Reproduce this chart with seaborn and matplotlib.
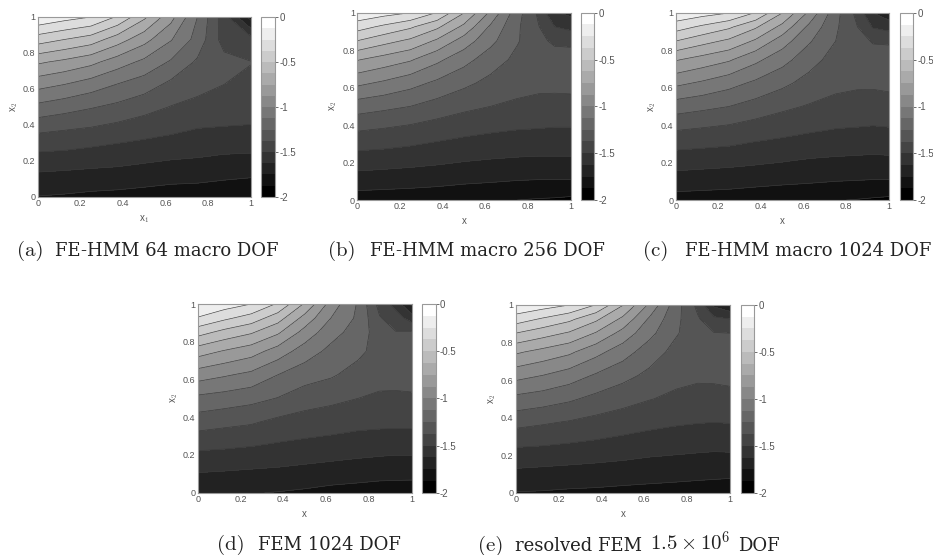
import numpy as np
import matplotlib
matplotlib.use('Agg')
import matplotlib.pyplot as plt
import seaborn as sns
from matplotlib.colors import ListedColormap

# node positions of the read-off grids
mesh_a = [0, 0.125, 0.25, 0.375, 0.5, 0.625, 0.75, 0.875, 1]
mesh_fine = [0, 0.125, 0.25, 0.375, 0.5, 0.625, 0.75, 0.85, 0.925, 1]

# values, rows go bottom to top
field_a = [
    [-1.755, -1.765, -1.78, -1.79, -1.80, -1.815, -1.83, -1.855, -1.87],
    [-1.64, -1.65, -1.66, -1.665, -1.685, -1.70, -1.70, -1.715, -1.73],
    [-1.50, -1.51, -1.53, -1.55, -1.565, -1.585, -1.60, -1.615, -1.62],
    [-1.35, -1.37, -1.39, -1.42, -1.45, -1.475, -1.505, -1.51, -1.52],
    [-1.16, -1.20, -1.24, -1.28, -1.33, -1.38, -1.41, -1.44, -1.43],
    [-0.955, -1.00, -1.06, -1.13, -1.19, -1.28, -1.335, -1.375, -1.395],
    [-0.73, -0.78, -0.84, -0.94, -1.03, -1.14, -1.27, -1.33, -1.372],
    [-0.44, -0.50, -0.56, -0.69, -0.83, -0.99, -1.17, -1.43, -1.45],
    [-0.14, -0.20, -0.25, -0.39, -0.60, -0.83, -1.125, -1.445, -1.80],
]
field_b = [
    [-1.81, -1.815, -1.82, -1.83, -1.845, -1.855, -1.875, -1.885, -1.89, -1.90],
    [-1.66, -1.67, -1.68, -1.69, -1.705, -1.715, -1.725, -1.73, -1.73, -1.73],
    [-1.515, -1.525, -1.54, -1.56, -1.58, -1.595, -1.605, -1.61, -1.61, -1.61],
    [-1.365, -1.385, -1.41, -1.44, -1.465, -1.485, -1.50, -1.505, -1.51, -1.51],
    [-1.19, -1.22, -1.25, -1.30, -1.345, -1.375, -1.395, -1.41, -1.42, -1.42],
    [-0.97, -1.02, -1.08, -1.15, -1.22, -1.285, -1.335, -1.345, -1.34, -1.335],
    [-0.74, -0.80, -0.86, -0.97, -1.08, -1.19, -1.28, -1.30, -1.29, -1.29],
    [-0.50, -0.58, -0.65, -0.77, -0.93, -1.09, -1.24, -1.33, -1.41, -1.42],
    [-0.32, -0.40, -0.48, -0.60, -0.78, -1.02, -1.23, -1.37, -1.50, -1.53],
    [-0.15, -0.20, -0.25, -0.38, -0.62, -0.90, -1.20, -1.40, -1.62, -1.66],
]
field_c = [
    [-1.80, -1.805, -1.81, -1.825, -1.84, -1.85, -1.87, -1.88, -1.89, -1.90],
    [-1.66, -1.67, -1.68, -1.69, -1.70, -1.71, -1.72, -1.725, -1.73, -1.73],
    [-1.52, -1.53, -1.54, -1.56, -1.58, -1.60, -1.61, -1.615, -1.62, -1.615],
    [-1.37, -1.39, -1.41, -1.44, -1.46, -1.485, -1.505, -1.51, -1.515, -1.51],
    [-1.19, -1.22, -1.25, -1.30, -1.35, -1.385, -1.41, -1.425, -1.43, -1.425],
    [-0.97, -1.02, -1.08, -1.15, -1.22, -1.295, -1.345, -1.355, -1.355, -1.345],
    [-0.74, -0.80, -0.86, -0.97, -1.08, -1.20, -1.30, -1.32, -1.32, -1.32],
    [-0.50, -0.58, -0.65, -0.77, -0.94, -1.11, -1.25, -1.33, -1.385, -1.39],
    [-0.32, -0.40, -0.48, -0.61, -0.79, -1.03, -1.23, -1.37, -1.51, -1.545],
    [-0.15, -0.20, -0.25, -0.385, -0.625, -0.90, -1.205, -1.41, -1.625, -1.71],
]
field_d = [
    [-1.74, -1.74, -1.745, -1.755, -1.77, -1.79, -1.80, -1.81, -1.815, -1.82],
    [-1.605, -1.615, -1.625, -1.635, -1.65, -1.665, -1.68, -1.69, -1.69, -1.69],
    [-1.47, -1.48, -1.495, -1.515, -1.53, -1.545, -1.56, -1.57, -1.58, -1.58],
    [-1.315, -1.34, -1.36, -1.405, -1.43, -1.445, -1.465, -1.47, -1.47, -1.47],
    [-1.155, -1.18, -1.21, -1.255, -1.315, -1.345, -1.375, -1.395, -1.395, -1.395],
    [-0.94, -0.985, -1.03, -1.125, -1.195, -1.235, -1.30, -1.33, -1.335, -1.32],
    [-0.69, -0.76, -0.82, -0.93, -1.06, -1.16, -1.22, -1.30, -1.30, -1.29],
    [-0.45, -0.54, -0.61, -0.73, -0.92, -1.08, -1.18, -1.315, -1.37, -1.36],
    [-0.26, -0.35, -0.43, -0.57, -0.795, -1.005, -1.15, -1.365, -1.435, -1.56],
    [-0.12, -0.185, -0.25, -0.39, -0.64, -0.93, -1.14, -1.42, -1.55, -1.78],
]
field_e = [
    [-1.755, -1.76, -1.77, -1.775, -1.785, -1.79, -1.80, -1.81, -1.815, -1.82],
    [-1.63, -1.64, -1.65, -1.66, -1.67, -1.685, -1.69, -1.695, -1.70, -1.705],
    [-1.49, -1.50, -1.515, -1.53, -1.55, -1.57, -1.585, -1.595, -1.60, -1.595],
    [-1.335, -1.36, -1.385, -1.415, -1.44, -1.465, -1.485, -1.495, -1.50, -1.495],
    [-1.16, -1.19, -1.23, -1.285, -1.33, -1.37, -1.40, -1.415, -1.42, -1.415],
    [-0.955, -1.00, -1.06, -1.14, -1.21, -1.28, -1.34, -1.355, -1.35, -1.34],
    [-0.73, -0.79, -0.85, -0.96, -1.07, -1.19, -1.29, -1.30, -1.30, -1.30],
    [-0.50, -0.57, -0.64, -0.76, -0.92, -1.09, -1.24, -1.32, -1.37, -1.375],
    [-0.31, -0.39, -0.47, -0.60, -0.78, -1.02, -1.22, -1.36, -1.47, -1.50],
    [-0.14, -0.19, -0.25, -0.38, -0.62, -0.90, -1.20, -1.41, -1.65, -1.73],
]

tick_vals = [0, 0.2, 0.4, 0.6, 0.8, 1]
tick_labels = ['0', '0.2', '0.4', '0.6', '0.8', '1']
cbar_vals = [0, -0.5, -1, -1.5, -2]
cbar_labels = ['0', '-0.5', '-1', '-1.5', '-2']
levels = [-2, -1.875, -1.75, -1.625, -1.5, -1.375, -1.25, -1.125, -1,
          -0.875, -0.75, -0.625, -0.5, -0.375, -0.25, -0.125, 0]

W, H = 933, 555
GREY = '#555555'
INK = '#222222'

sns.set_style('white')
plt.rcParams['font.family'] = ['Liberation Sans', 'DejaVu Sans']
plt.rcParams['mathtext.fontset'] = 'cm'

fig = plt.figure(figsize=(W / 100, H / 100), dpi=100)
cmap = ListedColormap(sns.blend_palette(['black', 'white'], 16))


def px_box(x0, x1, y0, y1):
    return [x0 / W, 1 - y1 / H, (x1 - x0) / W, (y1 - y0) / H]


def panel(field, mesh, box, cbar_x, xlabel):
    ax = fig.add_axes(px_box(*box))
    cs = ax.contourf(mesh, mesh, field, levels=levels, cmap=cmap, vmin=-2, vmax=0)
    ax.contour(mesh, mesh, field, levels=levels, colors='#3a3a3a', linewidths=0.45,
               linestyles='solid')
    ax.set_xlim(0, 1)
    ax.set_ylim(0, 1)
    ax.set_xticks(tick_vals, tick_labels)
    ax.set_yticks(tick_vals, tick_labels)
    ax.tick_params(length=0, pad=1.5, labelsize=6.5, labelcolor=GREY)
    ax.set_xlabel(xlabel, fontsize=7, color=GREY, labelpad=3.5)
    ax.set_ylabel('x$_2$', fontsize=7, color=GREY, labelpad=2.5)
    sns.despine(ax=ax, top=False, right=False)
    for sp in ax.spines.values():
        sp.set_color('#999999')
        sp.set_linewidth(0.8)

    cax = fig.add_axes(px_box(cbar_x[0], cbar_x[1], box[2], box[3]))
    cb = fig.colorbar(cs, cax=cax, ticks=cbar_vals, drawedges=False)
    cb.ax.set_yticklabels(cbar_labels)
    cb.ax.tick_params(length=2.5, width=0.6, color=GREY, pad=0.5,
                      labelsize=7, labelcolor=GREY)
    cb.outline.set_edgecolor('#999999')
    cb.outline.set_linewidth(0.8)


panel(field_a, mesh_a, (37.7, 250.7, 17, 197), (261, 275), 'x$_1$')
panel(field_b, mesh_fine, (357, 570.7, 12.7, 200), (581, 594), 'x')
panel(field_c, mesh_fine, (675.7, 889, 13, 200), (899.5, 913), 'x')
panel(field_d, mesh_fine, (197.7, 411.7, 304, 492.7), (421.7, 435.7), 'x')
panel(field_e, mesh_fine, (515.7, 730, 305, 492.7), (740.7, 754), 'x')


def caption(x, y, text, size, family='DejaVu Serif'):
    fig.text(x / W, 1 - y / H, text, family=family, fontsize=size, color=INK, va='baseline')


# sub captions: the letter is set larger than the small caps text after it
caption(17, 256, '(a)', 15, 'cmr10')
caption(55, 256, 'FE-HMM 64 macro DOF', 13)
caption(328, 256, '(b)', 15, 'cmr10')
caption(370, 256, 'FE-HMM macro 256 DOF', 13)
caption(643, 256, '(c)', 15, 'cmr10')
caption(685, 256, 'FE-HMM macro 1024 DOF', 13)
caption(217, 550, '(d)', 15, 'cmr10')
caption(258, 550, 'FEM 1024 DOF', 13)
caption(478, 551, '(e)', 15, 'cmr10')
caption(515, 551, 'resolved FEM', 13)
caption(650, 551, r'$1.5 \times 10^6$', 15, 'cmr10')
caption(738, 551, 'DOF', 13)

fig.savefig('out.png', dpi=100)
